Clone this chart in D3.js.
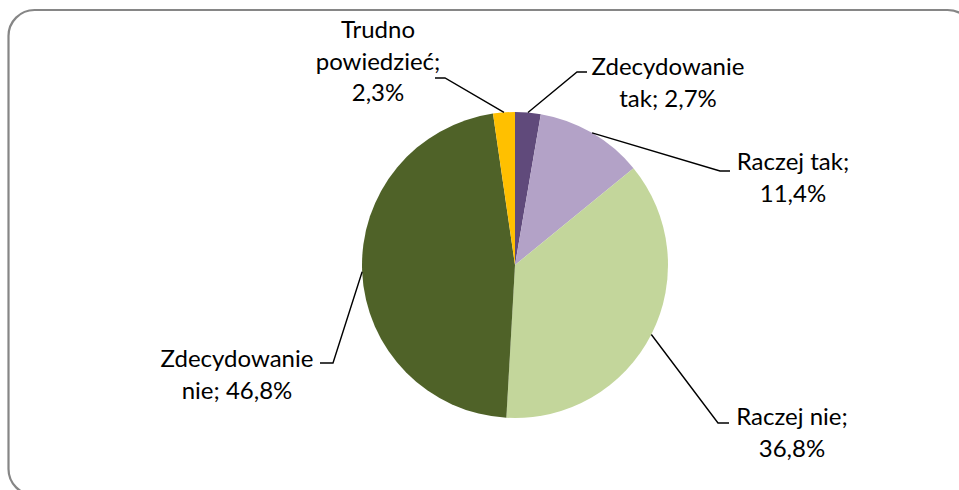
<!DOCTYPE html>
<html>
<head>
<meta charset="utf-8">
<script src="https://cdn.jsdelivr.net/npm/d3@7"></script>
<style>
  body { margin: 0; background: #fff; }
  svg { display: block; }
  text { font-family: Lato, "Open Sans", sans-serif; font-size: 24px; fill: #000; }
</style>
</head>
<body>
<svg width="959" height="490"></svg>
<script>
// data (share of answers, %)
var categories = ["Zdecydowanie tak", "Raczej tak", "Raczej nie", "Zdecydowanie nie", "Trudno powiedzieć"];
var values = [2.7, 11.4, 36.8, 46.8, 2.3];
var labelText = [
  ["Zdecydowanie", "tak; 2,7%"],
  ["Raczej tak;", "11,4%"],
  ["Raczej nie;", "36,8%"],
  ["Zdecydowanie", "nie; 46,8%"],
  ["Trudno", "powiedzieć;", "2,3%"]
];
var colors = ["#604a7b", "#b3a2c7", "#c3d69b", "#4f6228", "#ffc000"];

var svg = d3.select("svg");

// chart area frame
svg.append("rect")
    .attr("x", 8.5)
    .attr("y", 10)
    .attr("width", 965)
    .attr("height", 485)
    .attr("rx", 26)
    .attr("fill", "#fff")
    .attr("stroke", "#868686")
    .attr("stroke-width", 2.2);

var cx = 515, cy = 265, r = 153;

var pie = d3.pie().sort(null).value(function(d) { return d; });
var arc = d3.arc().innerRadius(0).outerRadius(r);

var arcs = pie(values);

var g = svg.append("g").attr("transform", "translate(" + cx + "," + cy + ")");

g.selectAll("path")
  .data(arcs)
  .enter().append("path")
    .attr("d", arc)
    .attr("fill", function(d, i) { return colors[i]; });

// leader line knees / text placement (layout only)
var layout = [
  { kx: 577, ky: 72,  ex: 587, tx: 668, ty: 75 },
  { kx: 720, ky: 171, ex: 730, tx: 793, ty: 170 },
  { kx: 718, ky: 423, ex: 729, tx: 792, ty: 425 },
  { kx: 333, ky: 363, ex: 320, tx: 237, ty: 367 },
  { kx: 445, ky: 78,  ex: 435, tx: 378, ty: 38 }
];

var edge = d3.arc().innerRadius(r).outerRadius(r);

svg.selectAll("polyline.leader")
  .data(arcs)
  .enter().append("polyline")
    .attr("class", "leader")
    .attr("fill", "none")
    .attr("stroke", "#000")
    .attr("stroke-width", 1.4)
    .attr("points", function(d, i) {
      var p = edge.centroid(d);
      var L = layout[i];
      return [[cx + p[0], cy + p[1]], [L.kx, L.ky], [L.ex, L.ky]].join(" ");
    });

var labels = svg.selectAll("text.lbl")
  .data(arcs)
  .enter().append("text")
    .attr("class", "lbl")
    .attr("text-anchor", "middle");

labels.selectAll("tspan")
  .data(function(d, i) { return labelText[i].map(function(t) { return { t: t, i: i }; }); })
  .enter().append("tspan")
    .attr("x", function(d) { return layout[d.i].tx; })
    .attr("y", function(d, j) { return layout[d.i].ty + j * 31.5; })
    .text(function(d) { return d.t; });
</script>
</body>
</html>
